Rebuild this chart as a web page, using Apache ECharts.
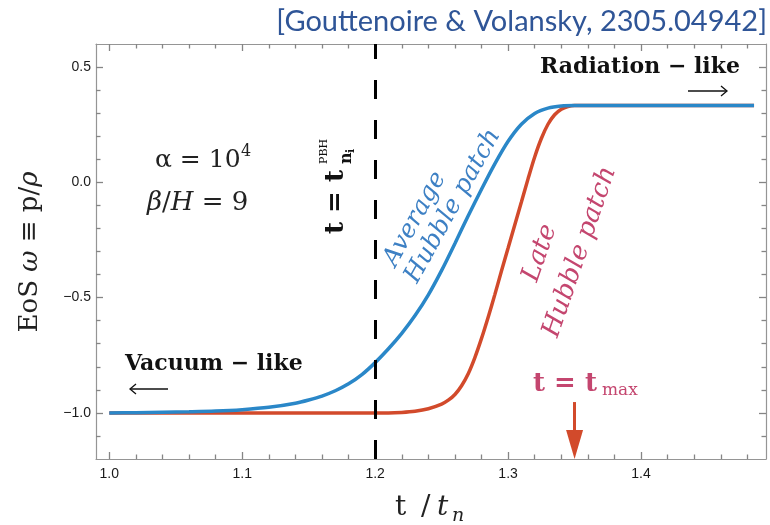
<!DOCTYPE html>
<html>
<head>
<meta charset="utf-8">
<script src="https://cdn.jsdelivr.net/npm/echarts@6/dist/echarts.min.js"></script>
<style>
html, body { margin: 0; padding: 0; background: #ffffff; }
#chart { width: 770px; height: 525px; }
</style>
</head>
<body>
<div id="chart"></div>
<script>
// Equation of state w = p / rho against t / t_n
// Average Hubble patch
const tAverage = [1.00, 1.02, 1.04, 1.06, 1.08, 1.10, 1.12, 1.14, 1.15, 1.16, 1.17, 1.18, 1.19, 1.20,
  1.21, 1.22, 1.23, 1.24, 1.25, 1.26, 1.27, 1.28, 1.29, 1.30, 1.31, 1.32, 1.33, 1.34, 1.35, 1.40, 1.45, 1.485];
const wAverage = [-1.000, -0.999, -0.997, -0.995, -0.992, -0.986, -0.976, -0.958, -0.944, -0.927, -0.904, -0.874, -0.834, -0.782,
  -0.722, -0.655, -0.578, -0.488, -0.382, -0.265, -0.145, -0.030, 0.080, 0.178, 0.252, 0.299, 0.322, 0.331, 0.333, 0.333, 0.333, 0.333];

// Late Hubble patch
const tLate = [1.00, 1.10, 1.15, 1.20, 1.21, 1.22, 1.23, 1.24, 1.25, 1.255, 1.26, 1.265, 1.27, 1.275, 1.28, 1.285,
  1.29, 1.295, 1.30, 1.305, 1.31, 1.315, 1.32, 1.325, 1.33, 1.335, 1.34, 1.345, 1.35, 1.40, 1.45, 1.485];
const wLate = [-1.000, -1.000, -1.000, -1.000, -1.000, -0.998, -0.993, -0.982, -0.962, -0.945, -0.920, -0.882, -0.830, -0.760, -0.677, -0.585,
  -0.487, -0.385, -0.285, -0.185, -0.085, 0.015, 0.110, 0.190, 0.252, 0.293, 0.317, 0.329, 0.333, 0.333, 0.333, 0.333];

// Special times
const tNucleation = 1.198;   // t = t_{n_i}^{PBH}
const tMax = 1.35;           // t = t_max
const arrowTop = -0.953;
const arrowTip = -1.137;

// Axis ranges and ticks
const xMin = 0.99, xMax = 1.494;
const yMin = -1.2, yMax = 0.6;
const xMajorTicks = [1.0, 1.1, 1.2, 1.3, 1.4];
const xMinorTicks = [1.02, 1.04, 1.06, 1.08, 1.12, 1.14, 1.16, 1.18, 1.22, 1.24, 1.26, 1.28,
  1.32, 1.34, 1.36, 1.38, 1.42, 1.44, 1.46, 1.48];
const yMajorTicks = [-1.0, -0.5, 0.0, 0.5];
const yMinorTicks = [-1.1, -0.9, -0.8, -0.7, -0.6, -0.4, -0.3, -0.2, -0.1, 0.1, 0.2, 0.3, 0.4];

const BLUE = '#2a87c8';
const RED = '#d24a2b';
const BLUE_TEXT = '#3d80c4';
const PINK_TEXT = '#c4466f';
const FRAME = '#959595';
const TICK = '#858585';

const zip = (xs, ys) => xs.map((x, i) => [x, ys[i]]);
const fmt = v => (v < 0 ? '\u2212' : '') + Math.abs(v).toFixed(1);

const gridBox = { left: 96, right: 4, top: 44, bottom: 66 };

// Frame axes: grid 0 carries the outline, major ticks and labels; grid 1 the minor ticks
function axisDef(kind, gridIndex, position, ticks, length, withLabels, withLine) {
  return {
    type: 'value', gridIndex, position,
    min: kind === 'x' ? xMin : yMin,
    max: kind === 'x' ? xMax : yMax,
    axisLine: { show: withLine, onZero: false, lineStyle: { color: FRAME, width: 1.2 } },
    axisTick: { show: true, inside: true, length, customValues: ticks, lineStyle: { color: TICK, width: 1.3 } },
    axisLabel: withLabels ? {
      show: true, customValues: ticks, formatter: fmt, margin: kind === 'x' ? 8 : 5,
      fontFamily: 'Liberation Sans', fontSize: 14, color: '#1a1a1a'
    } : { show: false, customValues: ticks },
    splitLine: { show: false }
  };
}

const SERIF = 'DejaVu Serif';

const chart = echarts.init(document.getElementById('chart'), null, { renderer: 'canvas' });
chart.setOption({
  animation: false,
  backgroundColor: '#ffffff',
  grid: [
    Object.assign({ containLabel: false }, gridBox),
    Object.assign({ containLabel: false }, gridBox)
  ],
  xAxis: [
    axisDef('x', 0, 'bottom', xMajorTicks, 7, true, true),
    axisDef('x', 0, 'top', xMajorTicks, 7, false, true),
    axisDef('x', 1, 'bottom', xMinorTicks, 4.5, false, false),
    axisDef('x', 1, 'top', xMinorTicks, 4.5, false, false)
  ],
  yAxis: [
    axisDef('y', 0, 'left', yMajorTicks, 7, true, true),
    axisDef('y', 0, 'right', yMajorTicks, 7, false, true),
    axisDef('y', 1, 'left', yMinorTicks, 4.5, false, false),
    axisDef('y', 1, 'right', yMinorTicks, 4.5, false, false)
  ],
  series: [
    {
      name: 'Late Hubble patch', type: 'line', xAxisIndex: 0, yAxisIndex: 0,
      data: zip(tLate, wLate), showSymbol: false, smooth: 0.3,
      lineStyle: { color: RED, width: 3.5 }, z: 2,
      markLine: {
        silent: true, z: 6,
        label: { show: false },
        data: [
          [
            { coord: [tMax, arrowTop], symbol: 'none' },
            { coord: [tMax, arrowTip], symbol: 'triangle', symbolSize: [17, 29] }
          ]
        ],
        lineStyle: { color: RED, width: 3, type: 'solid' },
        itemStyle: { color: RED }
      }
    },
    {
      name: 'Average Hubble patch', type: 'line', xAxisIndex: 0, yAxisIndex: 0,
      data: zip(tAverage, wAverage), showSymbol: false, smooth: 0.3,
      lineStyle: { color: BLUE, width: 3.5 }, z: 3,
      markLine: {
        silent: true, z: 7, symbol: 'none',
        label: { show: false },
        data: [{ xAxis: tNucleation }],
        lineStyle: { color: '#000000', width: 3, type: [19, 21] }
      }
    }
  ],
  graphic: [
    // reference tag
    { type: 'text', x: 767, y: 22, style: { text: '[Gouttenoire & Volansky, 2305.04942]', font: '29px Lato', fill: '#2f5597', align: 'right', verticalAlign: 'middle' } },
    // y axis title
    { type: 'text', x: 30, y: 252, rotation: Math.PI / 2,
      style: { text: '{a|EoS }{b|ω}{a| ≡ p/}{b|ρ}', align: 'center', verticalAlign: 'middle',
        rich: { a: { font: '26px ' + SERIF, fill: '#222' }, b: { font: 'italic 26px ' + SERIF, fill: '#222' } } } },
    // x axis title
    { type: 'text', x: 395, y: 508, style: { text: 't', font: '28px ' + SERIF, fill: '#222', verticalAlign: 'middle' } },
    { type: 'text', x: 421, y: 508, style: { text: '/', font: '28px ' + SERIF, fill: '#222', verticalAlign: 'middle' } },
    { type: 'text', x: 437, y: 508, style: { text: 't', font: 'italic 28px ' + SERIF, fill: '#222', verticalAlign: 'middle' } },
    { type: 'text', x: 452, y: 516, style: { text: 'n', font: 'italic 19px ' + SERIF, fill: '#222', verticalAlign: 'middle' } },
    // parameters
    { type: 'text', x: 155, y: 160, style: { text: 'α = 10', font: '25px ' + SERIF, fill: '#222', verticalAlign: 'middle' } },
    { type: 'text', x: 241, y: 152, style: { text: '4', font: '16px ' + SERIF, fill: '#222', verticalAlign: 'middle' } },
    { type: 'text', x: 147, y: 203, style: { text: '{i|β}/{i|H} = 9', font: '26px ' + SERIF, fill: '#222', verticalAlign: 'middle',
      rich: { i: { font: 'italic 26px ' + SERIF, fill: '#222' } } } },
    // t = t_{n_i}^{PBH}
    { type: 'group', x: 336, y: 234, rotation: Math.PI / 2, children: [
      { type: 'text', x: 0, y: 0, style: { text: 't = t', font: 'bold 26px ' + SERIF, fill: '#111', verticalAlign: 'middle' } },
      { type: 'text', x: 70, y: -12, style: { text: 'PBH', font: '11px ' + SERIF, fill: '#111', verticalAlign: 'middle' } },
      { type: 'text', x: 70, y: 11, style: { text: 'n', font: 'bold 16px ' + SERIF, fill: '#111', verticalAlign: 'middle' } },
      { type: 'text', x: 81, y: 15, style: { text: 'i', font: 'bold 11px ' + SERIF, fill: '#111', verticalAlign: 'middle' } }
    ] },
    // curve labels
    { type: 'text', x: 415, y: 219, rotation: 61 * Math.PI / 180,
      style: { text: 'Average', font: 'italic 25px ' + SERIF, fill: BLUE_TEXT, align: 'center', verticalAlign: 'middle' } },
    { type: 'text', x: 453, y: 206, rotation: 61 * Math.PI / 180,
      style: { text: 'Hubble patch', font: 'italic 25px ' + SERIF, fill: BLUE_TEXT, align: 'center', verticalAlign: 'middle' } },
    { type: 'text', x: 540, y: 253, rotation: 71 * Math.PI / 180,
      style: { text: 'Late', font: 'italic 26px ' + SERIF, fill: PINK_TEXT, align: 'center', verticalAlign: 'middle' } },
    { type: 'text', x: 580, y: 252, rotation: 71 * Math.PI / 180,
      style: { text: 'Hubble patch', font: 'italic 26px ' + SERIF, fill: PINK_TEXT, align: 'center', verticalAlign: 'middle' } },
    // regimes
    { type: 'text', x: 540, y: 67, style: { text: 'Radiation − like', font: 'bold 22px ' + SERIF, fill: '#111', verticalAlign: 'middle' } },
    { type: 'polyline', shape: { points: [[688, 91], [727, 91]] }, style: { stroke: '#111', lineWidth: 1.3, fill: null } },
    { type: 'polyline', shape: { points: [[721, 86], [727, 91], [721, 96]] }, style: { stroke: '#111', lineWidth: 1.3, fill: null } },
    { type: 'text', x: 125, y: 364, style: { text: 'Vacuum − like', font: 'bold 22px ' + SERIF, fill: '#111', verticalAlign: 'middle' } },
    { type: 'polyline', shape: { points: [[130, 389], [168, 389]] }, style: { stroke: '#111', lineWidth: 1.3, fill: null } },
    { type: 'polyline', shape: { points: [[136, 384], [130, 389], [136, 394]] }, style: { stroke: '#111', lineWidth: 1.3, fill: null } },
    // t = t_max
    { type: 'text', x: 533, y: 384, style: { text: 't = t', font: 'bold 26px ' + SERIF, fill: PINK_TEXT, verticalAlign: 'middle' } },
    { type: 'text', x: 602, y: 391, style: { text: 'max', font: '17px ' + SERIF, fill: PINK_TEXT, verticalAlign: 'middle' } }
  ]
});
</script>
</body>
</html>
